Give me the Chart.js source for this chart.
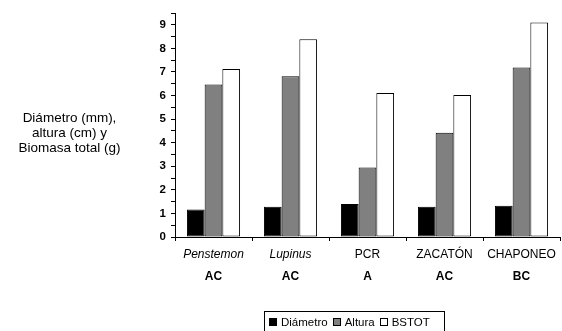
<!DOCTYPE html>
<html>
<head>
<meta charset="utf-8">
<script src="https://cdn.jsdelivr.net/npm/chart.js@4/dist/chart.umd.min.js"></script>
<style>
  html, body { margin: 0; padding: 0; background: #fff; }
  #wrap { position: relative; width: 562px; height: 331px; font-family: "Liberation Sans", Arial, sans-serif; }
  #yTitle { position: absolute; left: 0; width: 139px; top: 110px; text-align: center; font-size: 13.5px; line-height: 15px; color: #000; }
  #legend { position: absolute; left: 264px; top: 311px; width: 181px; height: 22px; border: 1px solid #000; box-sizing: border-box;
            font-size: 11.5px; color: #000; display: flex; align-items: center; padding-left: 4px; white-space: nowrap; }
  #legend .sw { display: inline-block; width: 6px; height: 6px; border: 1px solid #000; margin-right: 4px; }
  #legend .it { display: flex; align-items: center; margin-right: 5px; }
</style>
</head>
<body>
<div id="wrap">
  <canvas id="chart" width="562" height="331"></canvas>
  <div id="yTitle">Diámetro (mm),<br>altura (cm) y<br>Biomasa total (g)</div>
  <div id="legend"></div>
</div>
<script>
// datos
const categories = ['Penstemon', 'Lupinus', 'PCR', 'ZACATÓN', 'CHAPONEO'];
const italicCats = ['Penstemon', 'Lupinus'];
const groupLetters = ['AC', 'AC', 'A', 'AC', 'BC'];
const diametro = [1.17, 1.28, 1.40, 1.28, 1.33];
const altura = [6.47, 6.82, 2.95, 4.42, 7.19];
const bstot = [7.12, 8.39, 6.11, 6.02, 9.10];
const seriesNames = ['Diámetro', 'Altura', 'BSTOT'];
const seriesColors = ['#000000', '#808080', '#ffffff'];

const FONT = '"Liberation Sans", Arial, sans-serif';

// etiquetas del eje X en dos líneas (nombre + letra)
const categoryLabels = {
  id: 'categoryLabels',
  afterDraw(chart) {
    const ctx = chart.ctx;
    const x = chart.scales.x;
    const base = chart.chartArea.bottom;
    ctx.save();
    ctx.fillStyle = '#000';
    ctx.textAlign = 'center';
    ctx.textBaseline = 'middle';
    categories.forEach((cat, i) => {
      const px = x.getPixelForValue(i);
      ctx.font = (italicCats.includes(cat) ? 'italic ' : '') + '12px ' + FONT;
      ctx.fillText(cat, px, base + 18);
      ctx.font = 'bold 12px ' + FONT;
      ctx.fillText(groupLetters[i], px, base + 40);
    });
    ctx.restore();
  }
};

new Chart(document.getElementById('chart'), {
  type: 'bar',
  data: {
    labels: categories,
    datasets: [
      { label: seriesNames[0], data: diametro, backgroundColor: seriesColors[0] },
      { label: seriesNames[1], data: altura, backgroundColor: seriesColors[1] },
      { label: seriesNames[2], data: bstot, backgroundColor: seriesColors[2] }
    ].map(d => Object.assign(d, { borderColor: '#000', borderWidth: 1, borderSkipped: false,
                                  categoryPercentage: 0.69, barPercentage: 1.0 }))
  },
  options: {
    responsive: false,
    animation: false,
    devicePixelRatio: 1,
    layout: { padding: { top: 13, right: 2, left: 0, bottom: 0 } },
    plugins: { legend: { display: false }, tooltip: { enabled: false } },
    scales: {
      x: {
        afterFit: s => { s.height = 94; },
        grid: { offset: true, drawOnChartArea: false, tickLength: 4, color: '#000' },
        border: { color: '#000', width: 1 },
        ticks: { display: false }
      },
      y: {
        min: 0, max: 9.5,
        afterFit: s => { s.width = 175; },
        grid: { drawOnChartArea: false, tickLength: 4, color: '#000' },
        border: { color: '#000', width: 1 },
        ticks: {
          stepSize: 0.5,
          autoSkip: false,
          padding: 5,
          color: '#000',
          font: { family: FONT, size: 11.5, weight: 'bold' },
          callback: v => Number.isInteger(v) ? v : ''
        }
      }
    }
  },
  plugins: [categoryLabels]
});

document.getElementById('legend').innerHTML = seriesNames.map((n, i) =>
  `<span class="it"><span class="sw" style="background:${seriesColors[i]}"></span>${n}</span>`).join('');
</script>
</body>
</html>
